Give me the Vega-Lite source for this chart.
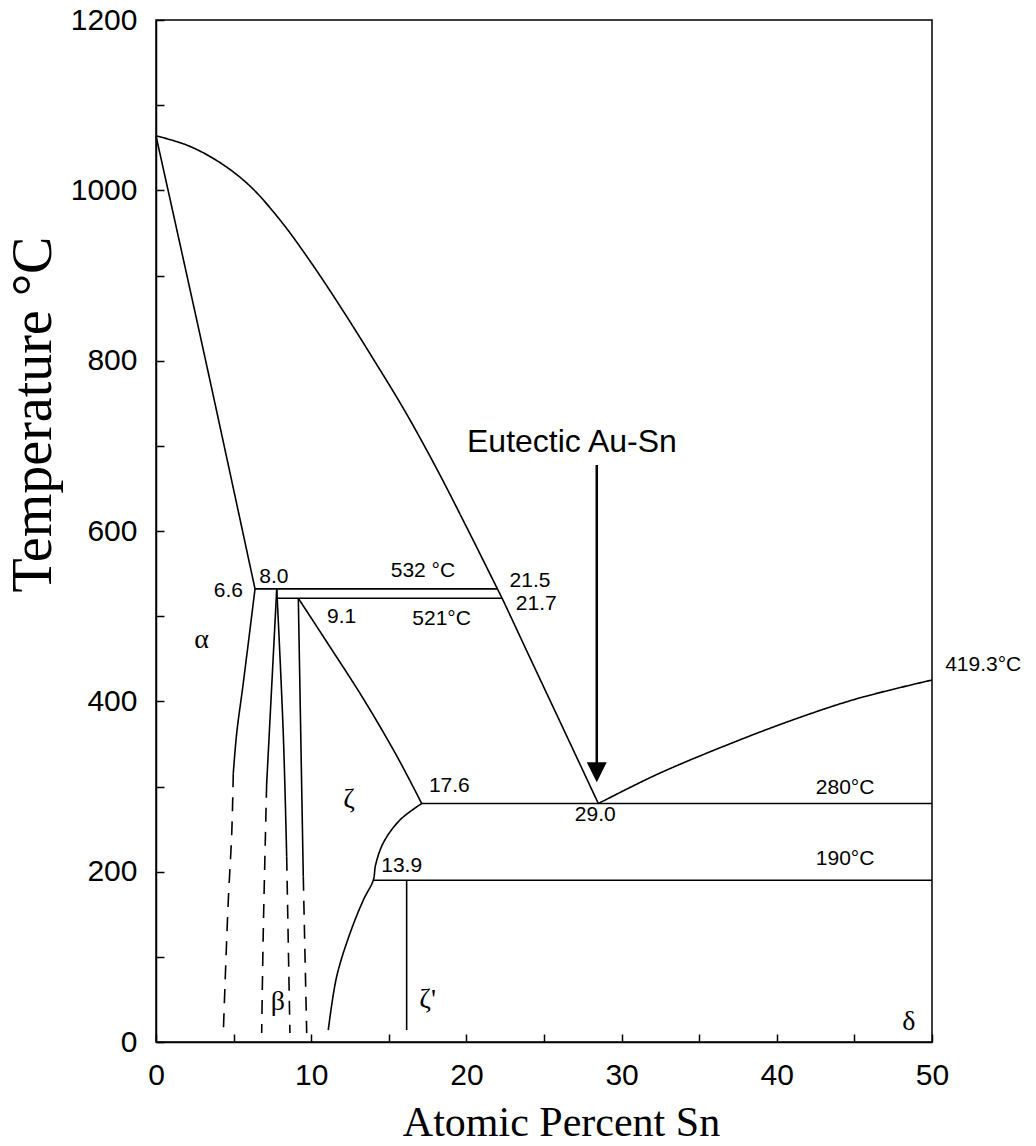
{
  "$schema": "https://vega.github.io/schema/vega-lite/v6.json",
  "width": 776,
  "height": 1022,
  "autosize": {"type": "none"},
  "padding": {"left": 156, "top": 20, "right": 104, "bottom": 104},
  "background": "white",
  "config": {
    "view": {"stroke": "black", "strokeWidth": 1.5},
    "axis": {"grid": false, "domainColor": "black", "domainWidth": 1.5, "tickColor": "black", "tickWidth": 1.5, "labelColor": "black", "titleColor": "black", "labelFont": "Liberation Sans", "labelFontSize": 30, "titleFont": "Liberation Serif", "titleFontWeight": "normal"}
  },
  "datasets": {
    "lines": [
      {"seg": "liqL", "i": 0, "x": 0, "T": 1064, "style": "solid"},
      {"seg": "liqL", "i": 1, "x": 2, "T": 1053, "style": "solid"},
      {"seg": "liqL", "i": 2, "x": 4, "T": 1034, "style": "solid"},
      {"seg": "liqL", "i": 3, "x": 6, "T": 1006, "style": "solid"},
      {"seg": "liqL", "i": 4, "x": 8, "T": 965, "style": "solid"},
      {"seg": "liqL", "i": 5, "x": 10, "T": 915, "style": "solid"},
      {"seg": "liqL", "i": 6, "x": 12, "T": 860, "style": "solid"},
      {"seg": "liqL", "i": 7, "x": 14, "T": 802, "style": "solid"},
      {"seg": "liqL", "i": 8, "x": 16, "T": 742, "style": "solid"},
      {"seg": "liqL", "i": 9, "x": 18, "T": 676, "style": "solid"},
      {"seg": "liqL", "i": 10, "x": 20, "T": 605, "style": "solid"},
      {"seg": "liqL", "i": 11, "x": 22.0, "T": 532, "style": "solid"},
      {"seg": "liqL", "i": 12, "x": 22.3, "T": 521, "style": "solid"},
      {"seg": "liqL", "i": 13, "x": 24.1, "T": 451, "style": "solid"},
      {"seg": "liqL", "i": 14, "x": 26.24, "T": 368, "style": "solid"},
      {"seg": "liqL", "i": 15, "x": 28.5, "T": 280, "style": "solid"},
      {"seg": "liqR", "i": 0, "x": 28.5, "T": 280, "style": "solid"},
      {"seg": "liqR", "i": 1, "x": 32.26, "T": 314, "style": "solid"},
      {"seg": "liqR", "i": 2, "x": 36.55, "T": 347, "style": "solid"},
      {"seg": "liqR", "i": 3, "x": 40.85, "T": 377, "style": "solid"},
      {"seg": "liqR", "i": 4, "x": 45.15, "T": 403, "style": "solid"},
      {"seg": "liqR", "i": 5, "x": 50, "T": 425, "style": "solid"},
      {"seg": "solA", "i": 0, "x": 0, "T": 1064, "style": "solid"},
      {"seg": "solA", "i": 1, "x": 3.2, "T": 800, "style": "solid"},
      {"seg": "solA", "i": 2, "x": 6.38, "T": 532, "style": "solid"},
      {"seg": "h532", "i": 0, "x": 6.38, "T": 532, "style": "solid"},
      {"seg": "h532", "i": 1, "x": 22.0, "T": 532, "style": "solid"},
      {"seg": "h521", "i": 0, "x": 7.85, "T": 521, "style": "solid"},
      {"seg": "h521", "i": 1, "x": 22.3, "T": 521, "style": "solid"},
      {"seg": "svA", "i": 0, "x": 6.38, "T": 532, "style": "solid"},
      {"seg": "svA", "i": 1, "x": 5.62, "T": 421, "style": "solid"},
      {"seg": "svA", "i": 2, "x": 5.2, "T": 362.5, "style": "solid"},
      {"seg": "svA", "i": 3, "x": 4.98, "T": 315.5, "style": "solid"},
      {"seg": "svAd", "i": 0, "x": 4.98, "T": 315.5, "style": "dashed"},
      {"seg": "svAd", "i": 1, "x": 4.88, "T": 245, "style": "dashed"},
      {"seg": "svAd", "i": 2, "x": 4.66, "T": 166.7, "style": "dashed"},
      {"seg": "svAd", "i": 3, "x": 4.45, "T": 69, "style": "dashed"},
      {"seg": "svAd", "i": 4, "x": 4.34, "T": 12, "style": "dashed"},
      {"seg": "bL", "i": 0, "x": 7.78, "T": 532, "style": "solid"},
      {"seg": "bL", "i": 1, "x": 7.13, "T": 303, "style": "solid"},
      {"seg": "bLd", "i": 0, "x": 7.13, "T": 303, "style": "dashed"},
      {"seg": "bLd", "i": 1, "x": 6.91, "T": 127.6, "style": "dashed"},
      {"seg": "bLd", "i": 2, "x": 6.81, "T": 10.6, "style": "dashed"},
      {"seg": "bR", "i": 0, "x": 7.78, "T": 532, "style": "solid"},
      {"seg": "bR", "i": 1, "x": 8.2, "T": 362.5, "style": "solid"},
      {"seg": "bR", "i": 2, "x": 8.42, "T": 217.6, "style": "solid"},
      {"seg": "bRd", "i": 0, "x": 8.42, "T": 217.6, "style": "dashed"},
      {"seg": "bRd", "i": 1, "x": 8.63, "T": 10.6, "style": "dashed"},
      {"seg": "z91", "i": 0, "x": 9.17, "T": 521, "style": "solid"},
      {"seg": "z91", "i": 1, "x": 9.49, "T": 194, "style": "solid"},
      {"seg": "z91d", "i": 0, "x": 9.49, "T": 194, "style": "dashed"},
      {"seg": "z91d", "i": 1, "x": 9.71, "T": 10.6, "style": "dashed"},
      {"seg": "zR", "i": 0, "x": 9.17, "T": 521, "style": "solid"},
      {"seg": "zR", "i": 1, "x": 11.21, "T": 464, "style": "solid"},
      {"seg": "zR", "i": 2, "x": 13.36, "T": 403, "style": "solid"},
      {"seg": "zR", "i": 3, "x": 15.51, "T": 336, "style": "solid"},
      {"seg": "zR", "i": 4, "x": 17.12, "T": 280, "style": "solid"},
      {"seg": "zL", "i": 0, "x": 17.12, "T": 280, "style": "solid"},
      {"seg": "zL", "i": 1, "x": 15.72, "T": 260.7, "style": "solid"},
      {"seg": "zL", "i": 2, "x": 14.65, "T": 234, "style": "solid"},
      {"seg": "zL", "i": 3, "x": 14.15, "T": 208, "style": "solid"},
      {"seg": "zL", "i": 4, "x": 14.0, "T": 190, "style": "solid"},
      {"seg": "zL", "i": 5, "x": 13.36, "T": 166.7, "style": "solid"},
      {"seg": "zL", "i": 6, "x": 12.5, "T": 127.6, "style": "solid"},
      {"seg": "zL", "i": 7, "x": 11.64, "T": 76.7, "style": "solid"},
      {"seg": "zL", "i": 8, "x": 11.1, "T": 14, "style": "solid"},
      {"seg": "h280", "i": 0, "x": 17.12, "T": 280, "style": "solid"},
      {"seg": "h280", "i": 1, "x": 50, "T": 280, "style": "solid"},
      {"seg": "h190", "i": 0, "x": 14.0, "T": 190, "style": "solid"},
      {"seg": "h190", "i": 1, "x": 50, "T": 190, "style": "solid"},
      {"seg": "zp", "i": 0, "x": 16.15, "T": 190, "style": "solid"},
      {"seg": "zp", "i": 1, "x": 16.15, "T": 14, "style": "solid"}
    ],
    "arrow": [{"x": 28.4, "top": 677.5, "base": 325, "tip": 305}],
    "labels": [
      {"t": "532 °C", "x": 17.2, "T": 546},
      {"t": "21.5", "x": 24.1, "T": 534.6},
      {"t": "21.7", "x": 24.5, "T": 507},
      {"t": "521°C", "x": 18.4, "T": 489.6},
      {"t": "9.1", "x": 11.96, "T": 491.6},
      {"t": "8.0", "x": 7.6, "T": 538.6},
      {"t": "6.6", "x": 4.66, "T": 522.8},
      {"t": "17.6", "x": 18.9, "T": 293},
      {"t": "29.0", "x": 28.3, "T": 259.5},
      {"t": "280°C", "x": 44.4, "T": 291},
      {"t": "190°C", "x": 44.4, "T": 207.8},
      {"t": "13.9", "x": 15.83, "T": 200},
      {"t": "419.3°C", "x": 53.3, "T": 435.6}
    ],
    "title2": [{"t": "Eutectic Au-Sn", "x": 26.8, "T": 693}],
    "greek": [
      {"t": "α", "x": 2.94, "T": 472},
      {"t": "ζ", "x": 12.44, "T": 284},
      {"t": "ζ'", "x": 17.5, "T": 49},
      {"t": "β", "x": 7.86, "T": 47},
      {"t": "δ", "x": 48.5, "T": 23}
    ]
  },
  "layer": [
    {
      "data": {"name": "lines"},
      "mark": {"type": "line", "color": "black", "strokeWidth": 1.6, "interpolate": "catmull-rom"},
      "encoding": {
        "x": {"field": "x", "type": "quantitative", "scale": {"domain": [0, 50], "nice": false, "zero": false},
          "axis": {"title": "Atomic Percent Sn", "values": [0, 5, 10, 15, 20, 25, 30, 35, 40, 45, 50], "labelExpr": "datum.value % 10 === 0 ? datum.label : ''", "tickSize": -8, "labelPadding": 26, "labelFlush": false, "titleFontSize": 42, "titleX": 405, "titleY": 93, "titleBaseline": "alphabetic", "titleAnchor": null}},
        "y": {"field": "T", "type": "quantitative", "scale": {"domain": [0, 1200], "nice": false},
          "axis": {"title": "Temperature °C", "format": "d", "values": [0, 100, 200, 300, 400, 500, 600, 700, 800, 900, 1000, 1100, 1200], "labelExpr": "datum.value % 200 === 0 ? datum.label : ''", "tickSize": -8, "labelPadding": 27, "labelFlush": false, "titleFontSize": 56, "titleAngle": 270, "titleX": -106, "titleY": 394, "titleBaseline": "alphabetic", "titleAlign": "center"}},
        "detail": {"field": "seg"},
        "order": {"field": "i", "type": "quantitative"},
        "strokeDash": {"field": "style", "type": "nominal", "scale": {"domain": ["solid", "dashed"], "range": [[1, 0], [14, 10]]}, "legend": null}
      }
    },
    {
      "data": {"name": "arrow"},
      "mark": {"type": "rule", "color": "black", "strokeWidth": 2.5},
      "encoding": {
        "x": {"field": "x", "type": "quantitative"},
        "y": {"field": "top", "type": "quantitative"},
        "y2": {"field": "base"}
      }
    },
    {
      "data": {"name": "arrow"},
      "mark": {"type": "point", "shape": "M-1,-2L1,-2L0,0Z", "filled": true, "color": "black", "opacity": 1, "size": 400},
      "encoding": {
        "x": {"field": "x", "type": "quantitative"},
        "y": {"field": "tip", "type": "quantitative"}
      }
    },
    {
      "data": {"name": "labels"},
      "mark": {"type": "text", "font": "Liberation Sans", "fontSize": 21, "align": "center", "baseline": "alphabetic", "color": "black"},
      "encoding": {
        "x": {"field": "x", "type": "quantitative"},
        "y": {"field": "T", "type": "quantitative"},
        "text": {"field": "t"}
      }
    },
    {
      "data": {"name": "title2"},
      "mark": {"type": "text", "font": "Liberation Sans", "fontSize": 32, "align": "center", "baseline": "alphabetic", "color": "black"},
      "encoding": {
        "x": {"field": "x", "type": "quantitative"},
        "y": {"field": "T", "type": "quantitative"},
        "text": {"field": "t"}
      }
    },
    {
      "data": {"name": "greek"},
      "mark": {"type": "text", "font": "Liberation Serif", "fontSize": 28, "align": "center", "baseline": "middle", "color": "black"},
      "encoding": {
        "x": {"field": "x", "type": "quantitative"},
        "y": {"field": "T", "type": "quantitative"},
        "text": {"field": "t"}
      }
    }
  ]
}
